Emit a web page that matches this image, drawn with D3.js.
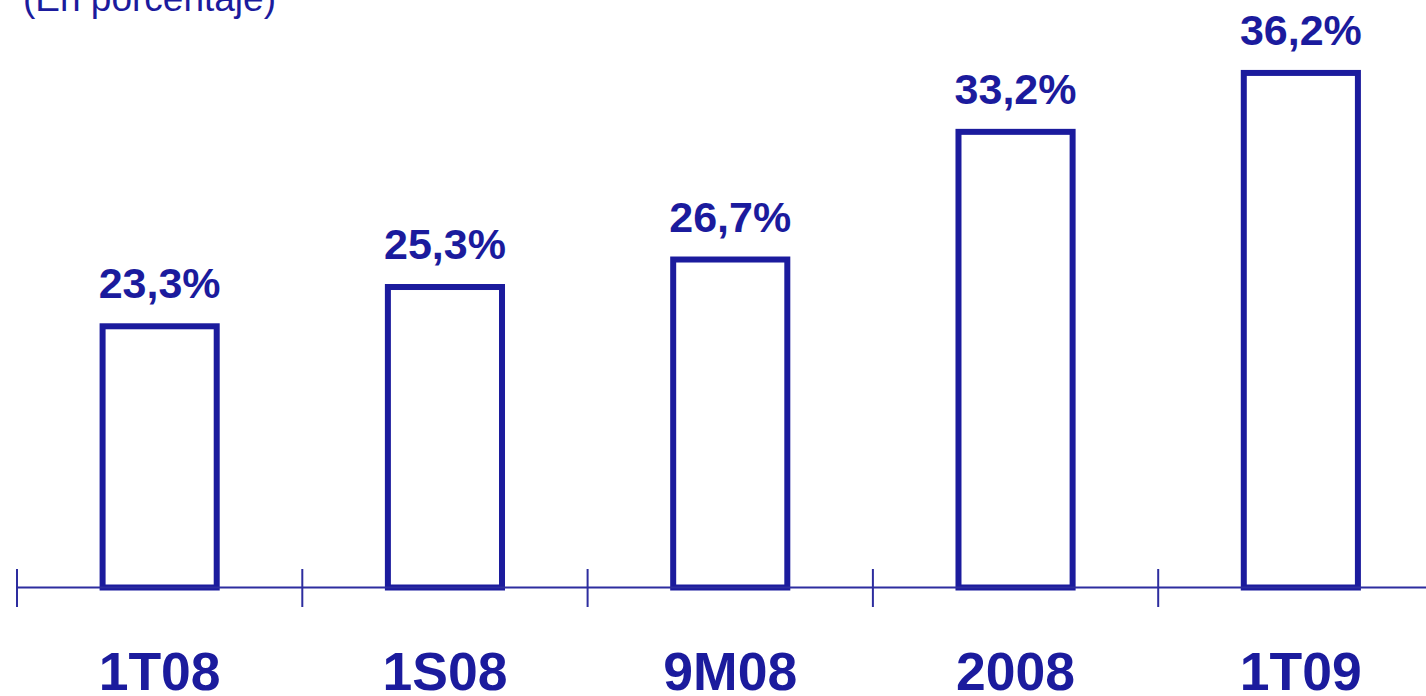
<!DOCTYPE html>
<html>
<head>
<meta charset="utf-8">
<script src="https://cdn.jsdelivr.net/npm/d3@7"></script>
<style>
  html, body { margin: 0; padding: 0; background: #fff; overflow: hidden; }
  svg { display: block; font-family: "Liberation Sans", Arial, sans-serif; }
</style>
</head>
<body>
<div id="chart"></div>
<script>
// Chart data
const categories = ['1T08', '1S08', '9M08', '2008', '1T09'];
const values = [23.3, 25.3, 26.7, 33.2, 36.2];
const valueLabels = ['23,3%', '25,3%', '26,7%', '33,2%', '36,2%'];
const subtitle = '(En porcentaje)';

const width = 1426, height = 696;
const blue = '#1b1b9d';
const axisY = 587.5;

const svg = d3.select('#chart')
    .append('svg')
    .attr('width', width)
    .attr('height', height);

// x: one band per category, ticks at band edges
const step = 285.3;
const x = d3.scaleBand()
    .domain(categories)
    .range([17, 17 + step * categories.length])
    .padding(0);

// y: the axis is not at zero, it sits at 10%
const y = d3.scaleLinear()
    .domain([10, 40])
    .range([axisY, axisY - 30 * 19.64]);

// subtitle (cut off at the top)
svg.append('text')
    .attr('x', 23)
    .attr('y', 10.5)
    .attr('fill', blue)
    .style('font-size', '37px')
    .text(subtitle);

// bars
const barW = x.bandwidth() * 0.4;
svg.selectAll('rect.bar')
    .data(values)
    .enter()
    .append('rect')
    .attr('class', 'bar')
    .attr('x', (d, i) => x(categories[i]) + (x.bandwidth() - barW) / 2)
    .attr('y', d => y(d))
    .attr('width', barW)
    .attr('height', d => axisY - y(d))
    .attr('fill', '#fff')
    .attr('stroke', blue)
    .attr('stroke-width', 6);

// axis line + ticks
svg.append('line')
    .attr('x1', x.range()[0])
    .attr('x2', width)
    .attr('y1', axisY)
    .attr('y2', axisY)
    .attr('stroke', '#2d2d9f')
    .attr('stroke-width', 2);

svg.selectAll('line.tick')
    .data(categories)
    .enter()
    .append('line')
    .attr('class', 'tick')
    .attr('x1', d => x(d))
    .attr('x2', d => x(d))
    .attr('y1', 569)
    .attr('y2', 607)
    .attr('stroke', '#2d2d9f')
    .attr('stroke-width', 2);

// value labels
svg.selectAll('text.value')
    .data(values)
    .enter()
    .append('text')
    .attr('class', 'value')
    .attr('x', (d, i) => x(categories[i]) + x.bandwidth() / 2)
    .attr('y', d => y(d) - 28)
    .attr('text-anchor', 'middle')
    .attr('fill', blue)
    .style('font-size', '43px')
    .style('font-weight', 'bold')
    .text((d, i) => valueLabels[i]);

// category labels
svg.selectAll('text.cat')
    .data(categories)
    .enter()
    .append('text')
    .attr('class', 'cat')
    .attr('x', d => x(d) + x.bandwidth() / 2)
    .attr('y', 690)
    .attr('text-anchor', 'middle')
    .attr('fill', blue)
    .style('font-size', '53.5px')
    .style('font-weight', 'bold')
    .text(d => d);
</script>
</body>
</html>
